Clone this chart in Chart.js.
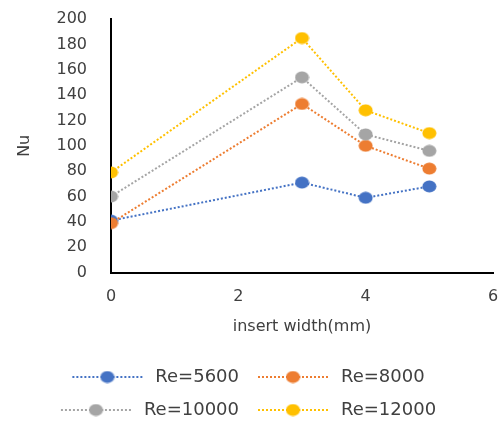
<!DOCTYPE html>
<html>
<head>
<meta charset="utf-8">
<script src="https://cdn.jsdelivr.net/npm/chart.js@4/dist/chart.umd.min.js"></script>
<style>
  html, body { margin: 0; padding: 0; background: #fff; }
  #wrap { width: 502px; height: 421px; }
</style>
</head>
<body>
<div id="wrap"><canvas id="chart"></canvas></div>
<script>
// data
const insertWidths = [0, 3, 4, 5];
const seriesNames = ["Re=5600", "Re=8000", "Re=10000", "Re=12000"];
const re5600 = [41, 71, 59, 68];
const re8000 = [39, 133, 100, 82];
const re10000 = [60, 154, 109, 96];
const re12000 = [79, 185, 128, 110];
const xTicks = [0, 2, 4, 6];
const yTicks = [0, 20, 40, 60, 80, 100, 120, 140, 160, 180, 200];

const colors = ["#4472C4", "#ED7D31", "#A5A5A5", "#FFC000"];
const textColor = "#404040";
const font = "'DejaVu Sans', sans-serif";

// slightly wide oval marker, like the source picture
function makeMarker(color) {
  const c = document.createElement("canvas");
  c.width = 15;
  c.height = 13;
  const ctx = c.getContext("2d");
  ctx.fillStyle = color;
  ctx.beginPath();
  ctx.ellipse(7.5, 6.5, 7, 6, 0, 0, Math.PI * 2);
  ctx.fill();
  return c;
}

// legend sample: dotted line with the marker in the middle
function makeLegendSample(color) {
  const c = document.createElement("canvas");
  c.width = 78;
  c.height = 14;
  const ctx = c.getContext("2d");
  ctx.strokeStyle = color;
  ctx.lineWidth = 2;
  ctx.setLineDash([2, 2]);
  ctx.beginPath();
  ctx.moveTo(4, 7);
  ctx.lineTo(74, 7);
  ctx.stroke();
  ctx.drawImage(makeMarker(color), 31.5, 0.5);
  return c;
}

const seriesValues = [re5600, re8000, re10000, re12000];

const datasets = seriesNames.map((name, i) => ({
  label: name,
  data: insertWidths.map((x, j) => ({ x: x, y: seriesValues[i][j] })),
  borderColor: colors[i],
  backgroundColor: colors[i],
  borderWidth: 2,
  borderDash: [2, 2],
  pointStyle: makeMarker(colors[i]),
  order: seriesNames.length - i,
  tension: 0,
}));

const legendSamples = colors.map(makeLegendSample);

new Chart(document.getElementById("chart"), {
  type: "line",
  data: { datasets },
  options: {
    responsive: true,
    maintainAspectRatio: false,
    animation: false,
    events: [],
    layout: { padding: { left: 0, right: 9, top: 19, bottom: -8 } },
    plugins: {
      tooltip: { enabled: false },
      legend: {
        position: "bottom",
        labels: {
          usePointStyle: true,
          pointStyleWidth: 78,
          padding: 15,
          color: textColor,
          font: { family: font, size: 18 },
          sort: (a, b) => a.datasetIndex - b.datasetIndex,
          generateLabels(chart) {
            const items = Chart.defaults.plugins.legend.labels.generateLabels(chart);
            items.forEach((item) => {
              item.pointStyle = legendSamples[item.datasetIndex];
            });
            return items;
          },
        },
      },
    },
    scales: {
      x: {
        type: "linear",
        min: 0,
        max: 6,
        afterBuildTicks: (scale) => {
          scale.ticks = xTicks.map((v) => ({ value: v }));
        },
        afterFit: (scale) => {
          // let layout.padding decide the plot edges
          scale.paddingLeft = 0;
          scale.paddingRight = 0;
        },
        grid: { display: false, drawTicks: false },
        border: { display: true, color: "#000", width: 2 },
        ticks: { padding: 15, color: textColor, font: { family: font, size: 16 } },
        title: {
          display: true,
          text: "insert width(mm)",
          color: textColor,
          font: { family: font, size: 16 },
          padding: { top: -5, bottom: 17 },
        },
      },
      y: {
        min: 0,
        max: 200,
        afterBuildTicks: (scale) => {
          scale.ticks = yTicks.map((v) => ({ value: v }));
        },
        afterFit: (scale) => {
          scale.width = 111;
          scale.paddingTop = 0;
          scale.paddingBottom = 0;
        },
        grid: { display: false, drawTicks: false },
        border: { display: true, color: "#000", width: 2 },
        ticks: { padding: 24, color: textColor, font: { family: font, size: 16 } },
        title: {
          display: true,
          text: "Nu",
          color: textColor,
          font: { family: font, size: 16 },
          padding: { top: 15, bottom: 0 },
        },
      },
    },
  },
});
</script>
</body>
</html>
